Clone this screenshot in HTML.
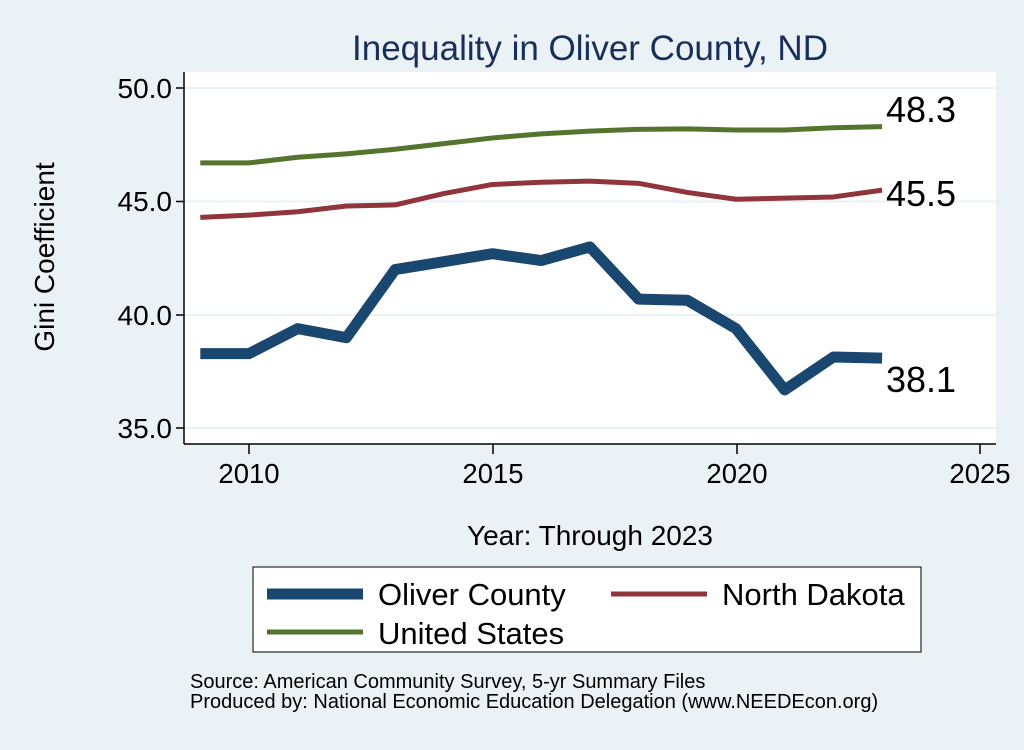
<!DOCTYPE html>
<html><head><meta charset="utf-8"><style>
body{margin:0;width:1024px;height:745px;background:#eaf2f5;font-family:"Liberation Sans",sans-serif;overflow:hidden}
</style></head><body>
<svg width="1024" height="745" xmlns="http://www.w3.org/2000/svg" font-family="Liberation Sans, sans-serif">
<rect x="0" y="0" width="1024" height="745" fill="#eaf2f5"/>
<rect x="184" y="72" width="812" height="372" fill="#fff"/>
<text x="590" y="60" font-size="35" fill="#1a2e5a" text-anchor="middle">Inequality in Oliver County, ND</text>
<g stroke="#eaf2f5" stroke-width="2">
<line x1="184" x2="996" y1="88" y2="88"/><line x1="184" x2="996" y1="201.5" y2="201.5"/>
<line x1="184" x2="996" y1="315" y2="315"/><line x1="184" x2="996" y1="428" y2="428"/>
</g>
<g stroke="#000" stroke-width="1.5">
<line x1="184" y1="72" x2="184" y2="444"/><line x1="184" y1="444" x2="996" y2="444"/>
<line x1="176" x2="184" y1="88" y2="88"/><line x1="176" x2="184" y1="201.5" y2="201.5"/>
<line x1="176" x2="184" y1="315" y2="315"/><line x1="176" x2="184" y1="428" y2="428"/>
<line x1="249" x2="249" y1="444" y2="454"/><line x1="493" x2="493" y1="444" y2="454"/>
<line x1="737" x2="737" y1="444" y2="454"/><line x1="980" x2="980" y1="444" y2="454"/>
</g>
<g font-size="28" fill="#000" text-anchor="end">
<text x="172" y="98">50.0</text><text x="172" y="211">45.0</text><text x="172" y="325">40.0</text><text x="172" y="438">35.0</text>
</g>
<g font-size="27.5" fill="#000" text-anchor="middle">
<text x="249" y="483">2010</text><text x="493" y="483">2015</text><text x="737" y="483">2020</text><text x="980" y="483">2025</text>
</g>
<text transform="translate(54,257) rotate(-90)" font-size="28" text-anchor="middle">Gini Coefficient</text>
<text x="590" y="545" font-size="28" text-anchor="middle">Year: Through 2023</text>
<g id="lines" fill="none" stroke-linejoin="round"></g>
<text x="886" y="122" font-size="36">48.3</text>
<text x="886" y="206" font-size="36">45.5</text>
<text x="886" y="392" font-size="36">38.1</text>
<rect x="253" y="567" width="668" height="85" fill="#fff" stroke="#000" stroke-width="1"/>
<line x1="267" x2="363" y1="594" y2="594" stroke="#1a476f" stroke-width="11"/>
<text x="378" y="605" font-size="31">Oliver County</text>
<line x1="611" x2="707" y1="594" y2="594" stroke="#90353b" stroke-width="5"/>
<text x="722" y="605" font-size="31">North Dakota</text>
<line x1="267" x2="363" y1="632" y2="632" stroke="#55752f" stroke-width="5"/>
<text x="378" y="644" font-size="31">United States</text>
<text x="190" y="688" font-size="20">Source: American Community Survey, 5-yr Summary Files</text>
<text x="190" y="708" font-size="20">Produced by: National Economic Education Delegation (www.NEEDEcon.org)</text>
</svg>
<script>
const X=y=>249+(y-2010)*48.7, Y=v=>88+(50-v)*22.7;
const s=[[[46.7,46.7,46.95,47.1,47.3,47.55,47.8,47.98,48.1,48.18,48.2,48.15,48.15,48.25,48.3],"#55752f",5],
[[44.3,44.4,44.55,44.8,44.85,45.35,45.75,45.85,45.9,45.8,45.4,45.1,45.15,45.2,45.5],"#90353b",5],
[[38.3,38.3,39.4,39.0,42.0,42.35,42.7,42.4,43.0,40.7,40.65,39.4,36.7,38.15,38.1],"#1a476f",11]];
const g=document.getElementById('lines');
for(const [d,c,w] of s){const p=document.createElementNS('http://www.w3.org/2000/svg','polyline');
p.setAttribute('points',d.map((v,i)=>X(2009+i)+','+Y(v)).join(' '));p.setAttribute('stroke',c);p.setAttribute('stroke-width',w);g.appendChild(p);}
</script>
</body></html>
